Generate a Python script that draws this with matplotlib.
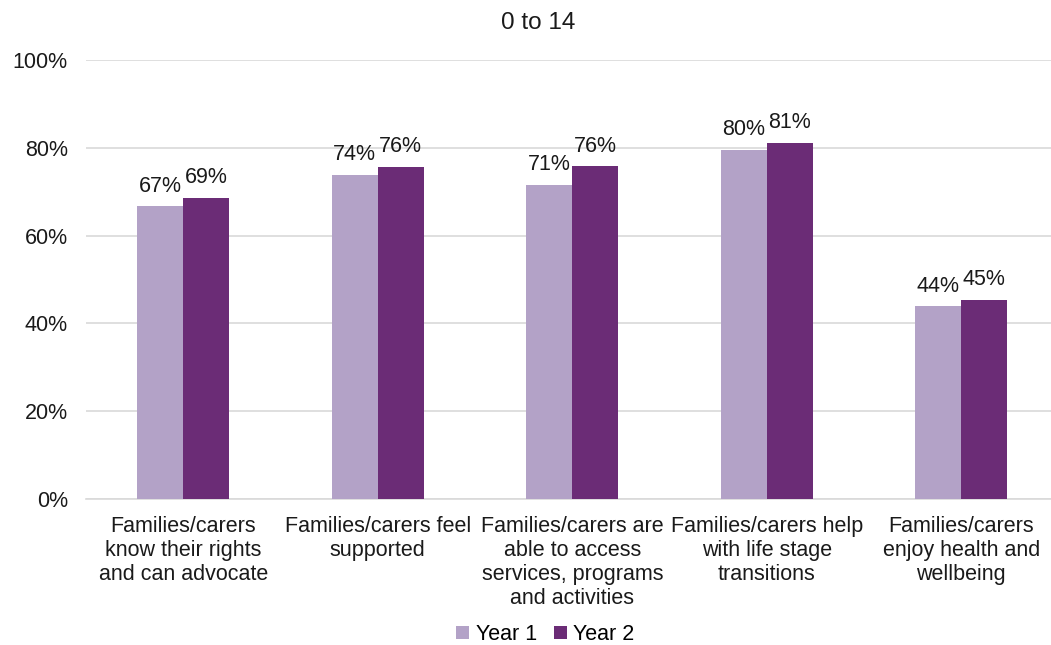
import matplotlib
matplotlib.use("Agg")
import matplotlib.pyplot as plt
import numpy as np

plt.rcParams['font.family'] = ['Liberation Sans', 'DejaVu Sans']

categories = [
    "Families/carers\nknow their rights\nand can advocate",
    "Families/carers feel\nsupported",
    "Families/carers are\nable to access\nservices, programs\nand activities",
    "Families/carers help\nwith life stage\ntransitions",
    "Families/carers\nenjoy health and\nwellbeing",
]
year1 = [0.667, 0.738, 0.715, 0.796, 0.439]
year2 = [0.686, 0.756, 0.758, 0.811, 0.453]
year1_labels = ["67%", "74%", "71%", "80%", "44%"]
year2_labels = ["69%", "76%", "76%", "81%", "45%"]

c1 = "#b3a2c7"
c2 = "#6b2c76"
fs = 15.5

fig = plt.figure(figsize=(10.51, 6.45), dpi=100)
ax = fig.add_axes([0.0818, 0.2264, 0.9182, 0.6806])

x = np.arange(len(categories))
w = 0.237
b1 = ax.bar(x - w / 2, year1, w, color=c1, label="Year 1", zorder=3)
b2 = ax.bar(x + w / 2, year2, w, color=c2, label="Year 2", zorder=3)

for rect, lab in zip(b1, year1_labels):
    ax.text(rect.get_x() + rect.get_width() / 2, rect.get_height() + 0.022, lab,
            ha='center', va='bottom', fontsize=fs, color='#1a1a1a')
for rect, lab in zip(b2, year2_labels):
    ax.text(rect.get_x() + rect.get_width() / 2, rect.get_height() + 0.022, lab,
            ha='center', va='bottom', fontsize=fs, color='#1a1a1a')

ax.set_ylim(0, 1.0)
ax.set_xlim(-0.5, 4.461)
ax.set_yticks([0, 0.2, 0.4, 0.6, 0.8, 1.0])
ax.set_yticklabels(["0%", "20%", "40%", "60%", "80%", "100%"], fontsize=fs, color='#1a1a1a')
ax.set_xticks(x)
ax.set_xticklabels(categories, fontsize=fs, color='#1a1a1a', linespacing=1.2)
ax.tick_params(axis='y', length=0, pad=13)
ax.tick_params(axis='x', length=0, pad=12)
ax.grid(axis='y', color='#d9d9d9', linewidth=1.2, zorder=0)
for s in ['top', 'right', 'left']:
    ax.spines[s].set_visible(False)
ax.spines['bottom'].set_color('#d9d9d9')
ax.spines['bottom'].set_linewidth(1.2)

fig.text(0.512, 0.965, "0 to 14", ha='center', va='center', fontsize=17.5, color='#1a1a1a')

fig.legend(loc='center', bbox_to_anchor=(0.519, 0.016), ncol=2, frameon=False,
           fontsize=fs, handlelength=0.6, handleheight=0.6, handletextpad=0.3,
           columnspacing=0.8)

fig.savefig("out.png", dpi=100)
